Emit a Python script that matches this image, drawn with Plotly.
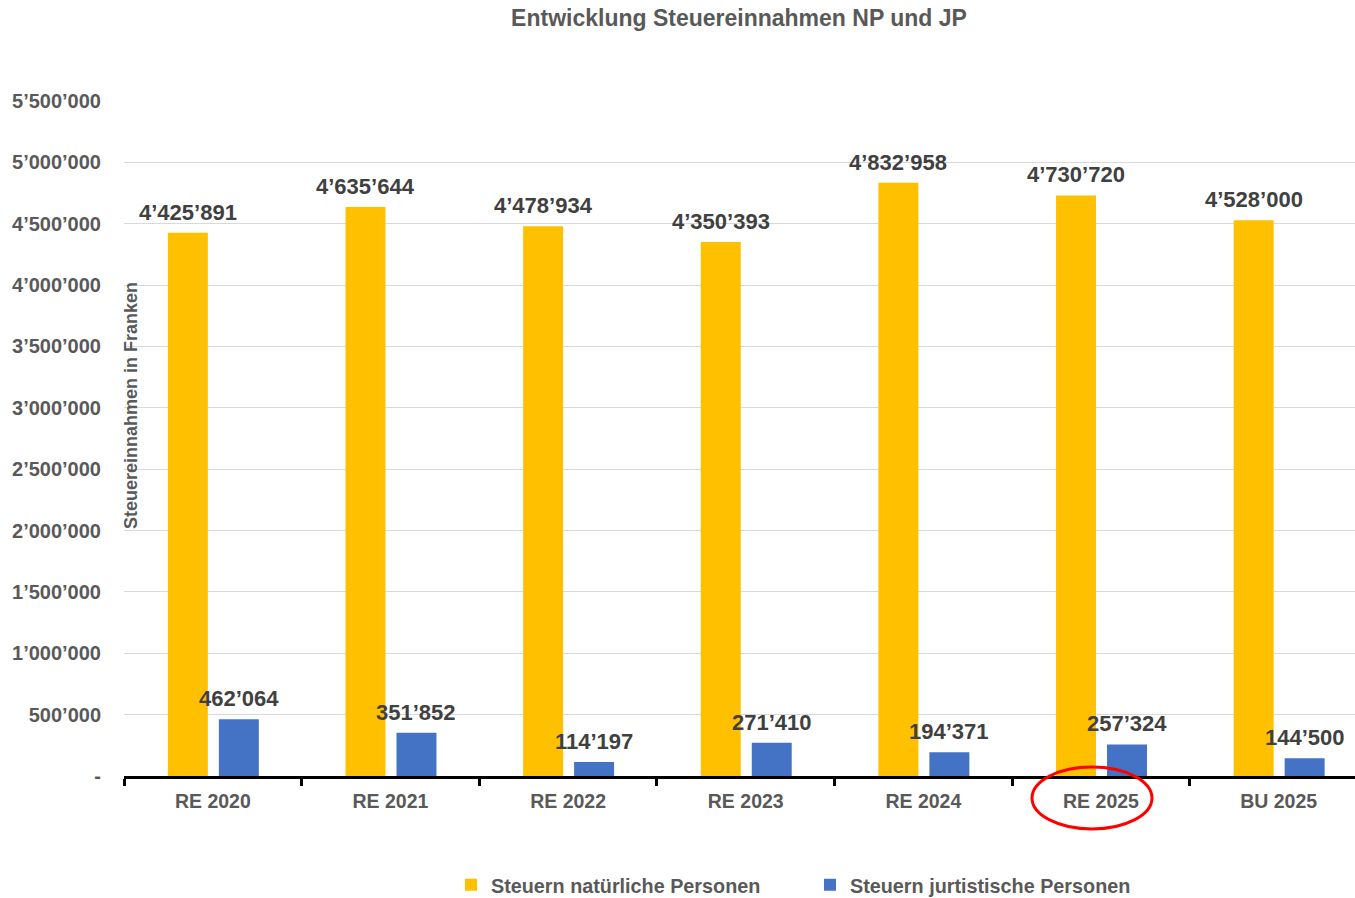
import plotly.graph_objects as go

categories = ["RE 2020", "RE 2021", "RE 2022", "RE 2023", "RE 2024", "RE 2025", "BU 2025"]
np_values = [4425891, 4635644, 4478934, 4350393, 4832958, 4730720, 4528000]
jp_values = [462064, 351852, 114197, 271410, 194371, 257324, 144500]
np_name = "Steuern natürliche Personen"
jp_name = "Steuern jurtistische Personen"
y_tickvals = [i * 500000 for i in range(12)]


def fmt(v):
    if v == 0:
        return "-"
    return f"{v:,}".replace(",", "\u2019")


FONT = "Liberation Sans, Arial, sans-serif"
GRAY = "#595959"
LABEL = "#404040"

BAR_W = 0.225
NP_OFF = -0.253
JP_OFF = 0.034
X_RANGE = [-0.5, 6.43]
PLOT_W = 1355 - 124
PX_PER_UNIT = PLOT_W / (X_RANGE[1] - X_RANGE[0])

fig = go.Figure()
fig.add_trace(go.Bar(
    x=categories, y=np_values, name=np_name,
    marker=dict(color="#FFC000", line=dict(width=0)),
    width=BAR_W, offset=NP_OFF,
))
fig.add_trace(go.Bar(
    x=categories, y=jp_values, name=jp_name,
    marker=dict(color="#4472C4", line=dict(width=0)),
    width=BAR_W, offset=JP_OFF,
))

annotations = []
for vals, off in ((np_values, NP_OFF), (jp_values, JP_OFF)):
    for c, v in zip(categories, vals):
        annotations.append(dict(
            x=c, y=v, xref="x", yref="y", text=fmt(v), showarrow=False,
            xanchor="center", yanchor="bottom",
            xshift=(off + BAR_W / 2) * PX_PER_UNIT, yshift=6,
            font=dict(family=FONT, size=22, color=LABEL, weight="bold"),
        ))

annotations.append(dict(
    text="Steuereinnahmen in Franken", textangle=-90,
    xref="paper", yref="paper",
    x=(131 - 124) / PLOT_W, y=(776 - 406) / 675,
    xanchor="center", yanchor="middle", showarrow=False,
    font=dict(family=FONT, size=18, color=GRAY, weight="bold"),
))

fig.update_layout(
    width=1355, height=898,
    margin=dict(l=124, r=0, t=101, b=122, autoexpand=False),
    paper_bgcolor="white", plot_bgcolor="white",
    barmode="overlay",
    font=dict(family=FONT, color=GRAY),
    title=dict(
        text="Entwicklung Steuereinnahmen NP und JP",
        x=739 / 1355, xref="container", xanchor="center",
        y=1 - 18 / 898, yref="container", yanchor="middle",
        font=dict(family=FONT, size=23, color=GRAY, weight="bold"),
    ),
    xaxis=dict(
        type="category", range=X_RANGE, automargin=False,
        showline=True, linecolor="black", linewidth=3,
        ticks="outside", tickson="boundaries", ticklen=7, tickwidth=3, tickcolor="black",
        ticklabelstandoff=6,
        tickfont=dict(family=FONT, size=19.5, color=GRAY, weight="bold"),
        showgrid=False, zeroline=False,
    ),
    xaxis2=dict(
        overlaying="x", anchor="y", side="bottom", range=X_RANGE,
        tickvals=[i - 0.5 for i in range(8)], ticks="inside", ticklen=7,
        tickwidth=3, tickcolor="black", showticklabels=False,
        showgrid=False, zeroline=False, showline=False,
    ),
    yaxis=dict(
        range=[0, 5500000], tickvals=y_tickvals, automargin=False,
        ticktext=[fmt(v) for v in y_tickvals],
        showgrid=True, gridcolor="#D9D9D9", gridwidth=1,
        zeroline=False, showline=False, ticks="",
        ticklabelstandoff=22,
        tickfont=dict(family=FONT, size=20, color=GRAY, weight="bold"),
    ),
    legend=dict(
        orientation="h", x=(451 - 124) / PLOT_W, xanchor="left",
        y=(776 - 885) / 675, yanchor="middle",
        font=dict(family=FONT, size=19.8, color=GRAY, weight="bold"),
        entrywidth=314, entrywidthmode="pixels",
        bgcolor="rgba(0,0,0,0)",
    ),
    showlegend=True,
    annotations=annotations,
    shapes=[dict(
        type="circle", xref="paper", yref="paper",
        x0=(1032 - 124) / PLOT_W, x1=(1152 - 124) / PLOT_W,
        y0=(776 - 829) / 675, y1=(776 - 767) / 675,
        line=dict(color="#FF0000", width=3), fillcolor="rgba(0,0,0,0)",
        layer="above",
    )],
)

fig.write_html("out.html")
